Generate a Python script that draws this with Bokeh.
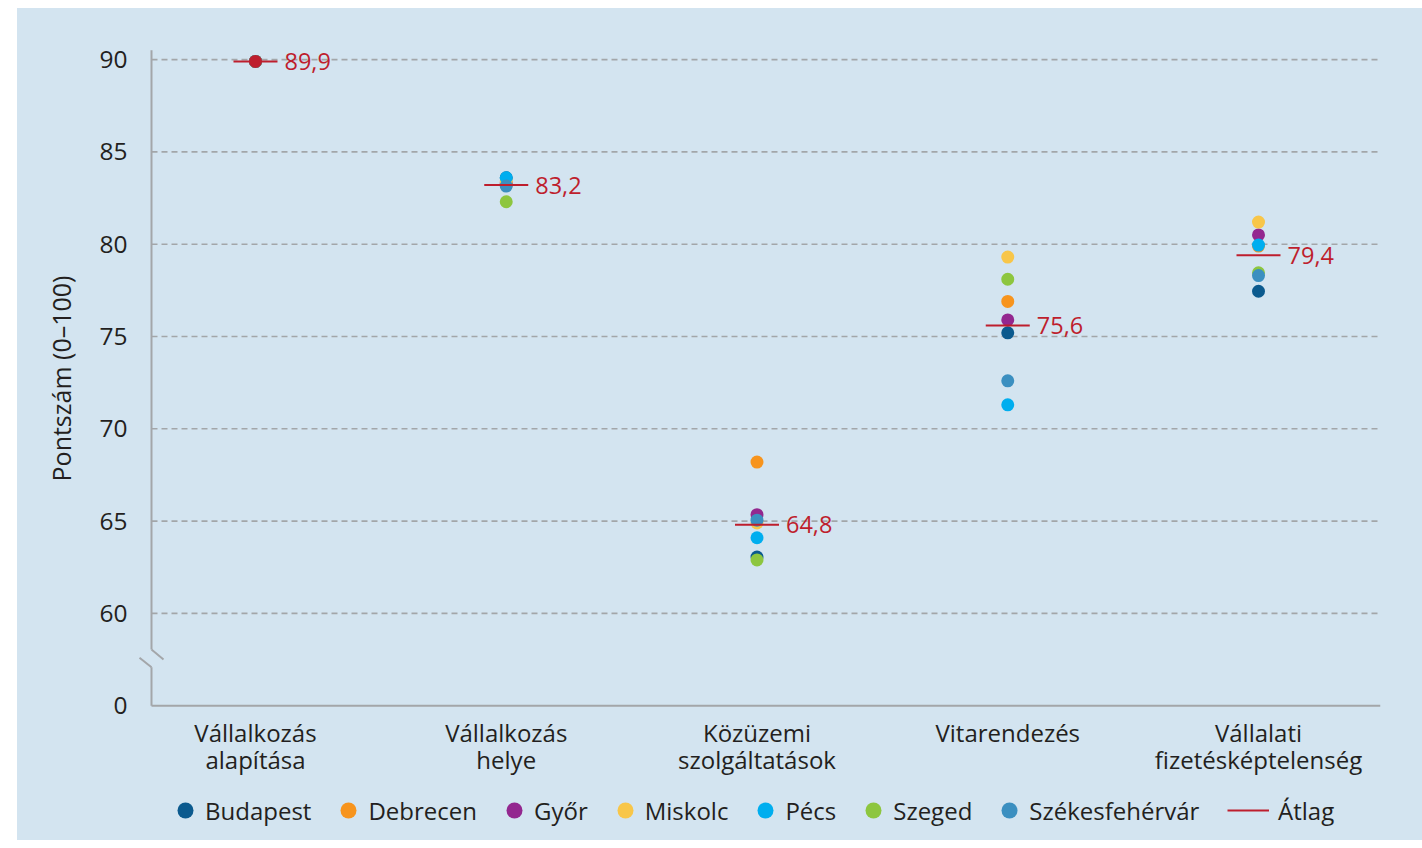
from bokeh.plotting import figure
from bokeh.layouts import column
from bokeh.models import Range1d, FixedTicker, Legend, LegendItem, ColumnDataSource
from bokeh.core.properties import value
from bokeh.embed import file_html
from bokeh.resources import INLINE

# ---------------- data ----------------
categories = ["Vállalkozás\nalapítása", "Vállalkozás\nhelye", "Közüzemi\nszolgáltatások",
              "Vitarendezés", "Vállalati\nfizetésképtelenség"]
cities = ["Budapest", "Debrecen", "Győr", "Miskolc", "Pécs", "Szeged", "Székesfehérvár"]
city_colors = ["#0b5a8e", "#f7941d", "#93278f", "#f8c649", "#00aeef", "#8dc63f", "#3b8fc0"]

budapest = [89.9, 83.6, 63.05, 75.2, 77.45]
debrecen = [89.9, 83.2, 68.2, 76.9, 79.9]
gyor = [89.9, 83.3, 65.35, 75.9, 80.5]
miskolc = [89.9, 83.4, 64.9, 79.3, 81.2]
pecs = [89.9, 83.6, 64.1, 71.3, 79.95]
szeged = [89.9, 82.3, 62.9, 78.1, 78.45]
szekesfehervar = [89.9, 83.15, 65.05, 72.6, 78.3]
city_values = [budapest, debrecen, gyor, miskolc, pecs, szeged, szekesfehervar]

average = [89.9, 83.2, 64.8, 75.6, 79.4]
average_labels = ["89,9", "83,2", "64,8", "75,6", "79,4"]
average_name = "Átlag"

y_ticks = [55, 60, 65, 70, 75, 80, 85, 90]
y_tick_labels = {55: "0"}          # broken axis: the bottom tick stands for 0
grid_values = [60, 65, 70, 75, 80, 85, 90]
break_hi, break_lo = 58.05, 57.08  # where the axis line is interrupted
axis_top = 90.5

# ---------------- styling ----------------
BG = "#d3e4f0"
RED = "#be1e2d"
TXT = "#231f20"
AXIS = "#a3a6a9"
GRID = "#a3a6a9"
FONT = "Open Sans"

FRAME_W, FRAME_H = 1245, 660
x_start, x_end = -0.4785, 4.4865
y_start, y_end = 54.85, 90.6
px_x = FRAME_W / (x_end - x_start)
px_y = FRAME_H / (y_end - y_start)
axis_x = x_start + 16 / px_x
x_idx = list(range(len(categories)))

p = figure(frame_width=FRAME_W, frame_height=FRAME_H,
           x_range=Range1d(x_start, x_end), y_range=Range1d(y_start, y_end),
           output_backend="svg", toolbar_location=None,
           min_border_left=118, min_border_right=42, min_border_top=40, min_border_bottom=76)
p.background_fill_color = BG
p.border_fill_color = BG
p.outline_line_color = None
p.xgrid.visible = False
p.ygrid.visible = False

# dashed grid lines from the axis line to the right
p.segment(x0=[axis_x] * len(grid_values), x1=[x_end] * len(grid_values),
          y0=grid_values, y1=grid_values, line_color=GRID, line_width=1.6, line_dash="6 4")
# axis lines with the break
p.segment(x0=[axis_x, axis_x, axis_x], x1=[axis_x, axis_x, x_end],
          y0=[axis_top, break_lo, 55], y1=[break_hi, 55, 55],
          line_color=AXIS, line_width=2)
p.segment(x0=[axis_x, axis_x - 12 / px_x], x1=[axis_x + 12 / px_x, axis_x],
          y0=[break_hi, break_lo + 9.5 / px_y], y1=[break_hi - 10 / px_y, break_lo],
          line_color=AXIS, line_width=2)

# city points
for name, col, vals in zip(cities, city_colors, city_values):
    src = ColumnDataSource(dict(x=x_idx, y=vals))
    p.scatter("x", "y", source=src, size=13, fill_color=col, line_color=None)

# average markers
hw = 22 / px_x
avg_src = ColumnDataSource(dict(x0=[i - hw for i in x_idx], x1=[i + hw for i in x_idx],
                                y=average, x=x_idx, lab=average_labels))
p.segment(x0="x0", x1="x1", y0="y", y1="y", source=avg_src, line_color=RED, line_width=2)
p.scatter(x=[x_idx[0]], y=[average[0]], size=13, fill_color=RED, line_color=None)
p.text(x="x", y="y", text="lab", source=avg_src, x_offset=29, text_baseline="middle",
       text_align="left", text_color=RED, text_font=value(FONT), text_font_size="23.5px")

# axes
p.yaxis.ticker = FixedTicker(ticks=y_ticks)
p.yaxis.major_label_overrides = y_tick_labels
p.yaxis.axis_line_color = None
p.yaxis.major_tick_line_color = None
p.yaxis.minor_tick_line_color = None
p.yaxis.major_label_standoff = 2
p.yaxis.major_label_text_font = FONT
p.yaxis.major_label_text_font_size = "24.5px"
p.yaxis.major_label_text_color = TXT
p.yaxis.axis_label = "Pontszám (0–100)"
p.yaxis.axis_label_text_font = FONT
p.yaxis.axis_label_text_font_size = "25px"
p.yaxis.axis_label_text_font_style = "normal"
p.yaxis.axis_label_text_color = TXT
p.yaxis.axis_label_standoff = 18

p.xaxis.ticker = FixedTicker(ticks=x_idx)
p.xaxis.major_label_overrides = {i: c for i, c in zip(x_idx, categories)}
p.xaxis.axis_line_color = None
p.xaxis.major_tick_line_color = None
p.xaxis.minor_tick_line_color = None
p.xaxis.major_tick_out = 0
p.xaxis.major_tick_in = 0
p.xaxis.minor_tick_out = 0
p.xaxis.major_label_standoff = 7
p.xaxis.major_label_text_font = FONT
p.xaxis.major_label_text_font_size = "24px"
p.xaxis.major_label_text_line_height = 0.83
p.xaxis.major_label_text_color = TXT

# ---------------- legend strip (its frame is aligned with the chart's frame) ----------------
LEG_H = 56
q = figure(width=p.min_border_left + FRAME_W + p.min_border_right, height=LEG_H,
           x_range=Range1d(0, 1), y_range=Range1d(0, 1),
           output_backend="svg", toolbar_location=None,
           x_axis_location=None, y_axis_location=None,
           min_border=0, min_border_left=0, min_border_right=0, min_border_top=0, min_border_bottom=0)
q.background_fill_color = BG
q.border_fill_color = BG
q.outline_line_color = None
q.xgrid.visible = False
q.ygrid.visible = False

# invisible proxy renderers (outside the strip's range) that only lend their style to the legend
city_items = []
for name, col in zip(cities, city_colors):
    r = q.scatter(x=[-5], y=[-5], size=16, fill_color=col, line_color=None)
    city_items.append(LegendItem(label=name, renderers=[r]))
ra = q.segment(x0=[-5], x1=[-4], y0=[-5], y1=[-5], line_color=RED, line_width=2)

leg_common = dict(orientation="horizontal", label_text_font=FONT, label_text_font_size="24px",
                  label_text_color=TXT, background_fill_alpha=0, border_line_color=None,
                  margin=0, padding=0, glyph_height=40)
leg_cities = Legend(items=city_items, location=(30, 10), glyph_width=40,
                    label_standoff=-2, spacing=17, **leg_common)
leg_avg = Legend(items=[LegendItem(label=average_name, renderers=[ra])], location=(1092, 10),
                 glyph_width=42, label_standoff=9, **leg_common)
q.add_layout(leg_cities, "center")
q.add_layout(leg_avg, "center")

layout = column(p, q, spacing=0)
layout.margin = (8, 0, 0, 17)
layout.styles = {"background-color": BG}

open("out.html", "w").write(file_html(layout, INLINE))
